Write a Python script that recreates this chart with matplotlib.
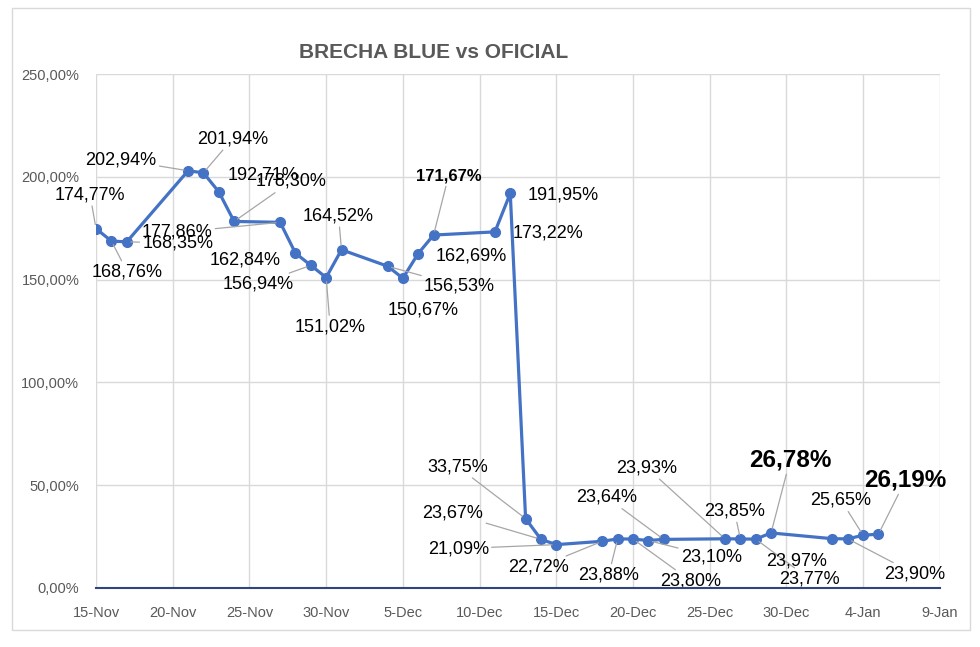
import matplotlib
matplotlib.use("Agg")
import matplotlib.pyplot as plt
from matplotlib.patches import Rectangle
import numpy as np
import datetime as dt

plt.rcParams['font.family'] = ['Liberation Sans', 'DejaVu Sans']

# data
fechas = ["2023-11-15", "2023-11-16", "2023-11-17", "2023-11-21", "2023-11-22",
          "2023-11-23", "2023-11-24", "2023-11-27", "2023-11-28", "2023-11-29",
          "2023-11-30", "2023-12-01", "2023-12-04", "2023-12-05", "2023-12-06",
          "2023-12-07", "2023-12-11", "2023-12-12", "2023-12-13", "2023-12-14",
          "2023-12-15", "2023-12-18", "2023-12-19", "2023-12-20", "2023-12-21",
          "2023-12-22", "2023-12-26", "2023-12-27", "2023-12-28", "2023-12-29",
          "2024-01-02", "2024-01-03", "2024-01-04", "2024-01-05"]
brecha = [174.77, 168.76, 168.35, 202.94, 201.94,
          192.71, 178.30, 177.86, 162.84, 156.94,
          151.02, 164.52, 156.53, 150.67, 162.69,
          171.67, 173.22, 191.95, 33.75, 23.67,
          21.09, 22.72, 23.88, 23.80, 23.10,
          23.64, 23.93, 23.85, 23.77, 26.78,
          23.97, 23.90, 25.65, 26.19]

# label placement (pixel offsets from point), leader line yes/no, style
offsets = [(-6, 34), (16, -31), (51, -1), (-67, 11), (29, 34),
           (44, 17), (57, 40), (-103, -10), (-50, -7), (-53, -19),
           (4, -49), (-3, 34), (72, -20), (20, -32), (53, -2),
           (15, 59), (53, -1), (53, -2), (-68, 52), (-88, 26),
           (-98, -4), (-64, -26), (-9, -36), (58, -42), (63, -16),
           (-57, 42), (-78, 71), (-6, 28), (54, -40), (19, 73),
           (-36, -22), (67, -35), (-22, 35), (27, 54)]
leaders = [1, 1, 1, 1, 1,
           0, 1, 1, 0, 1,
           1, 1, 1, 0, 0,
           1, 0, 0, 1, 1,
           1, 1, 1, 1, 1,
           1, 1, 1, 1, 1,
           0, 1, 1, 1]
bold_idx = {15: 12, 29: 17.5, 33: 17.5}

x = [dt.datetime.strptime(f, "%Y-%m-%d") for f in fechas]

fig = plt.figure(figsize=(9.8, 6.47), dpi=100)
ax = fig.add_axes([0.098, 0.0912, 0.861, 0.7944])

fig.patches.append(Rectangle((12 / 980, 1 - 630 / 647), 958 / 980, 622 / 647,
                             transform=fig.transFigure, fill=False,
                             edgecolor='#d9d9d9', lw=1))

azul = '#4472C4'
ax.plot(x, brecha, color=azul, lw=2.3, marker='o', ms=7, zorder=3)

for i, (xi, v) in enumerate(zip(x, brecha)):
    txt = f"{v:.2f}%".replace('.', ',')
    fs = bold_idx.get(i, 13)
    fw = 'bold' if i in bold_idx else 'normal'
    ap = None
    if leaders[i]:
        ap = dict(arrowstyle='-', color='#a6a6a6', lw=0.9, shrinkA=0, shrinkB=3)
    ax.annotate(txt, (xi, v), xytext=offsets[i], textcoords='offset pixels',
                ha='center', va='center', fontsize=fs, fontweight=fw,
                color='black', arrowprops=ap, zorder=4)

ax.set_xlim(dt.datetime(2023, 11, 15), dt.datetime(2024, 1, 9))
ax.set_ylim(0, 250)
ticks = [dt.datetime(2023, 11, 15) + dt.timedelta(days=5 * k) for k in range(12)]
ax.set_xticks(ticks)
ax.set_xticklabels([f"{t.day}-{t.strftime('%b')}" for t in ticks])
ax.set_yticks(np.arange(0, 251, 50))
ax.set_yticklabels([f"{v:.2f}%".replace('.', ',') for v in np.arange(0, 251, 50)])

ax.grid(True, color='#d9d9d9', lw=1)
ax.set_axisbelow(True)
for s in ['top', 'right', 'left']:
    ax.spines[s].set_visible(False)
ax.spines['bottom'].set_color('#2F4580')
ax.spines['bottom'].set_linewidth(1.5)
ax.spines['bottom'].set_zorder(5)
ax.tick_params(axis='both', length=0, colors='#595959', labelsize=10.5)
ax.tick_params(axis='y', pad=12)
ax.tick_params(axis='x', pad=13)

fig.text(0.442, 1 - 52 / 647, "BRECHA BLUE vs OFICIAL", ha='center', va='center',
         fontsize=15, fontweight='bold', color='#595959')

fig.savefig("out.png", dpi=100)
